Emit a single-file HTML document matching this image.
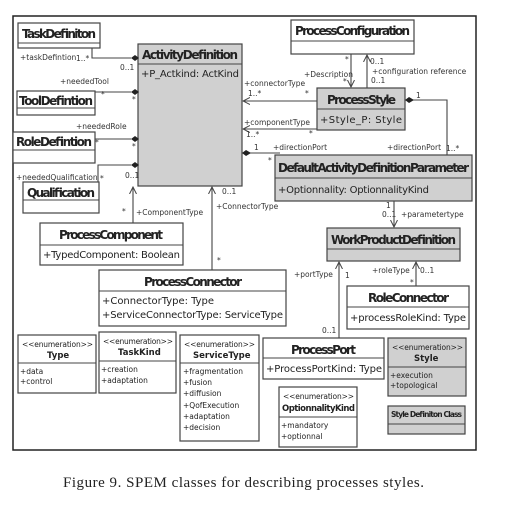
<!DOCTYPE html>
<html><head><meta charset="utf-8"><style>
html,body{margin:0;padding:0;background:#fff;width:505px;height:505px;overflow:hidden}
svg{display:block}
.b{font-family:"DejaVu Sans","Liberation Sans",sans-serif;font-weight:bold;font-size:12px;fill:#222}
.a{font-family:"DejaVu Sans","Liberation Sans",sans-serif;font-size:10px;fill:#222}
.s{font-family:"DejaVu Sans","Liberation Sans",sans-serif;font-size:7.5px;fill:#333}
.e{font-family:"DejaVu Sans","Liberation Sans",sans-serif;font-size:7.5px;fill:#222}
.eb{font-family:"DejaVu Sans","Liberation Sans",sans-serif;font-size:8.5px;font-weight:bold;fill:#222}
rect{stroke:#444;stroke-width:1.2}
line,polyline{stroke:#444;stroke-width:1.1;fill:none}
</style></head><body>
<svg width="505" height="505" viewBox="0 0 505 505" xmlns="http://www.w3.org/2000/svg">
<defs>
<marker id="ar" markerWidth="8" markerHeight="8" refX="7" refY="4" orient="auto" markerUnits="userSpaceOnUse"><polyline points="0,0.5 7,4 0,7.5" style="stroke:#444;stroke-width:1;fill:none"/></marker>
</defs>
<rect x="13" y="16" width="463" height="434" fill="#fff" style="stroke:#222;stroke-width:1.5"/>

<rect x="18" y="23" width="82" height="25" fill="#fff"/><line x1="18" y1="43" x2="100" y2="43"/>
<text class="b" x="22" y="38" textLength="74">TaskDefiniton</text>
<rect x="138" y="44" width="104" height="142" fill="#d0d0d0"/><line x1="138" y1="64" x2="242" y2="64"/>
<text class="b" x="142" y="59" textLength="96">ActivityDefinition</text>
<text class="a" x="141" y="77" textLength="98">+P_Actkind: ActKind</text>
<rect x="17" y="91" width="78" height="24" fill="#fff"/><line x1="17" y1="108" x2="95" y2="108"/>
<text class="b" x="19" y="105" textLength="74">ToolDefintion</text>
<rect x="13" y="132" width="82" height="31" fill="#fff"/><line x1="13" y1="150" x2="95" y2="150"/>
<text class="b" x="16" y="146" textLength="76">RoleDefintion</text>
<rect x="23" y="182" width="76" height="31" fill="#fff"/><line x1="23" y1="200" x2="99" y2="200"/>
<text class="b" x="27" y="197" textLength="68">Qualification</text>
<rect x="40" y="223" width="143" height="42" fill="#fff"/><line x1="40" y1="245" x2="183" y2="245"/>
<text class="b" x="59" y="239" textLength="104">ProcessComponent</text>
<text class="a" x="43" y="258" textLength="137">+TypedComponent: Boolean</text>
<rect x="99" y="270" width="187" height="56" fill="#fff"/><line x1="99" y1="291" x2="286" y2="291"/>
<text class="b" x="144" y="286" textLength="98">ProcessConnector</text>
<text class="a" x="102" y="304" textLength="112">+ConnectorType: Type</text>
<text class="a" x="102" y="318" textLength="181">+ServiceConnectorType: ServiceType</text>
<rect x="18" y="335" width="78" height="58" fill="#fff"/><line x1="18" y1="363" x2="96" y2="363"/>
<text class="e" x="22" y="347" textLength="71">&lt;&lt;enumeration&gt;&gt;</text>
<text class="eb" x="47" y="358">Type</text>
<text class="e" x="20" y="374">+data</text><text class="e" x="20" y="384">+control</text>
<rect x="99" y="332" width="77" height="61" fill="#fff"/><line x1="99" y1="361" x2="176" y2="361"/>
<text class="e" x="103" y="344" textLength="70">&lt;&lt;enumeration&gt;&gt;</text>
<text class="eb" x="118" y="355">TaskKind</text>
<text class="e" x="101" y="372">+creation</text><text class="e" x="101" y="383">+adaptation</text>
<rect x="180" y="335" width="79" height="106" fill="#fff"/><line x1="180" y1="363" x2="259" y2="363"/>
<text class="e" x="184" y="347" textLength="71">&lt;&lt;enumeration&gt;&gt;</text>
<text class="eb" x="193" y="358">ServiceType</text>
<text class="e" x="183" y="374">+fragmentation</text>
<text class="e" x="183" y="385">+fusion</text>
<text class="e" x="183" y="396">+diffusion</text>
<text class="e" x="183" y="408">+QofExecution</text>
<text class="e" x="183" y="419">+adaptation</text>
<text class="e" x="183" y="430">+decision</text>
<rect x="291" y="20" width="123" height="34" fill="#fff"/><line x1="291" y1="41" x2="414" y2="41"/>
<text class="b" x="295" y="35" textLength="115">ProcessConfiguration</text>
<rect x="317" y="88" width="88" height="42" fill="#d0d0d0"/><line x1="317" y1="109" x2="405" y2="109"/>
<text class="b" x="327" y="104" textLength="69">ProcessStyle</text>
<text class="a" x="320" y="123" textLength="82">+Style_P: Style</text>
<rect x="275" y="155" width="197" height="46" fill="#d0d0d0"/><line x1="275" y1="178" x2="472" y2="178"/>
<text class="b" x="278" y="172" textLength="191">DefaultActivityDefinitionParameter</text>
<text class="a" x="278" y="193" textLength="151">+Optionnality: OptionnalityKind</text>
<rect x="327" y="228" width="133" height="33" fill="#d0d0d0"/><line x1="327" y1="249" x2="460" y2="249"/>
<text class="b" x="331" y="244" textLength="125">WorkProductDefinition</text>
<rect x="347" y="286" width="122" height="43" fill="#fff"/><line x1="347" y1="307" x2="469" y2="307"/>
<text class="b" x="368" y="302" textLength="81">RoleConnector</text>
<text class="a" x="350" y="321" textLength="116">+processRoleKind: Type</text>
<rect x="263" y="338" width="121" height="41" fill="#fff"/><line x1="263" y1="358" x2="384" y2="358"/>
<text class="b" x="291" y="354" textLength="65">ProcessPort</text>
<text class="a" x="266" y="372" textLength="116">+ProcessPortKind: Type</text>
<rect x="388" y="338" width="78" height="58" fill="#d0d0d0"/><line x1="388" y1="367" x2="466" y2="367"/>
<text class="e" x="392" y="350" textLength="71">&lt;&lt;enumeration&gt;&gt;</text>
<text class="eb" x="414" y="361">Style</text>
<text class="e" x="390" y="378">+execution</text><text class="e" x="390" y="388">+topological</text>
<rect x="279" y="387" width="78" height="60" fill="#fff"/><line x1="279" y1="417" x2="357" y2="417"/>
<text class="e" x="283" y="399" textLength="71">&lt;&lt;enumeration&gt;&gt;</text>
<text class="eb" x="282" y="411" textLength="73">OptionnalityKind</text>
<text class="e" x="281" y="428">+mandatory</text><text class="e" x="281" y="439">+optionnal</text>
<rect x="388" y="406" width="77" height="28" fill="#d0d0d0"/><line x1="388" y1="424" x2="465" y2="424"/>
<text class="e" x="391" y="417" textLength="71" style="font-weight:bold">Style Definiton Class</text>

<polyline points="92,48 92,58 131,58"/><polygon points="131,58 135,55 139,58 135,61" fill="#222"/>
<line x1="95" y1="92" x2="131" y2="92"/><polygon points="131,92 135,89 139,92 135,95" fill="#222"/>
<line x1="95" y1="139" x2="131" y2="139"/><polygon points="131,139 135,136 139,139 135,142" fill="#222"/>
<polyline points="98,182 98,165 131,165"/><polygon points="131,165 135,162 139,165 135,168" fill="#222"/>
<text class="s" x="20" y="60">+taskDefintion</text><text class="s" x="76" y="61">1..*</text><text class="s" x="120" y="70">0..1</text>
<text class="s" x="60" y="84">+neededTool</text><text class="s" x="101" y="97">*</text><text class="s" x="132" y="102">*</text>
<text class="s" x="76" y="129">+neededRole</text><text class="s" x="95" y="145">*</text><text class="s" x="132" y="149">*</text>
<text class="s" x="16" y="180">+neededQualification</text><text class="s" x="100" y="181">*</text><text class="s" x="125" y="178">0..1</text>
<line x1="133" y1="223" x2="133" y2="187" marker-end="url(#ar)"/>
<text class="s" x="122" y="214">*</text><text class="s" x="136" y="215">+ComponentType</text>
<line x1="212" y1="270" x2="212" y2="187" marker-end="url(#ar)"/>
<text class="s" x="222" y="194">0..1</text><text class="s" x="216" y="209">+ConnectorType</text><text class="s" x="217" y="263">*</text>
<line x1="317" y1="101" x2="243" y2="101" marker-end="url(#ar)"/>
<text class="s" x="244" y="86">+connectorType</text><text class="s" x="248" y="96">1..*</text><text class="s" x="305" y="96">*</text>
<line x1="317" y1="129" x2="243" y2="129" marker-end="url(#ar)"/>
<text class="s" x="244" y="125">+componentType</text><text class="s" x="246" y="137">1..*</text><text class="s" x="309" y="136">*</text>
<line x1="250" y1="153" x2="280" y2="153"/><polygon points="242,153 246,150 251,153 246,156" fill="#222"/>
<text class="s" x="254" y="150">1</text><text class="s" x="273" y="150">+directionPort</text><text class="s" x="268" y="163">*</text>
<polyline points="413,100 447,100 447,155"/><polygon points="405,100 409,97 414,100 409,103" fill="#222"/>
<text class="s" x="416" y="98">1</text><text class="s" x="387" y="150">+directionPort</text><text class="s" x="446" y="151">1..*</text>
<line x1="351" y1="54" x2="351" y2="87" marker-end="url(#ar)"/>
<line x1="367" y1="88" x2="367" y2="55" marker-end="url(#ar)"/>
<text class="s" x="345" y="62">*</text><text class="s" x="304" y="77">+Description</text><text class="s" x="343" y="84">*</text>
<text class="s" x="370" y="64">0..1</text><text class="s" x="372" y="74">+configuration reference</text><text class="s" x="371" y="83">0..1</text>
<line x1="394" y1="201" x2="394" y2="227" marker-end="url(#ar)"/>
<text class="s" x="386" y="208">1</text><text class="s" x="382" y="217">0..1</text><text class="s" x="401" y="217">+parametertype</text>
<line x1="339" y1="338" x2="339" y2="262" marker-end="url(#ar)"/>
<text class="s" x="294" y="277">+portType</text><text class="s" x="345" y="278">1</text><text class="s" x="322" y="333">0..1</text>
<line x1="416" y1="286" x2="416" y2="262" marker-end="url(#ar)"/>
<text class="s" x="372" y="273">+roleType</text><text class="s" x="420" y="273">0..1</text><text class="s" x="410" y="285">*</text>

<text x="63" y="487" textLength="361" style="font-family:'Liberation Serif',serif;font-size:15px;fill:#222">Figure 9.   SPEM classes for describing processes styles.</text>
</svg>
</body></html>
